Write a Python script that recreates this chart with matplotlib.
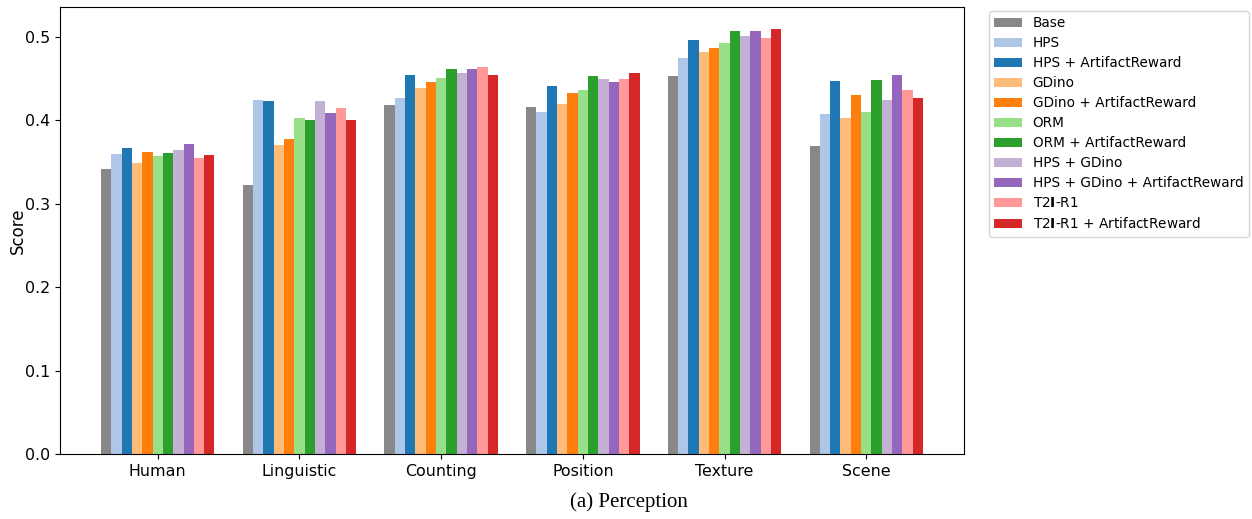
import matplotlib
matplotlib.use("Agg")
import matplotlib.pyplot as plt
import numpy as np

plt.rcParams['mathtext.fontset'] = 'dejavusans'

categories = ["Human", "Linguistic", "Counting", "Position", "Texture", "Scene"]
methods = ["Base", "HPS", "HPS + ArtifactReward", "GDino", "GDino + ArtifactReward",
           "ORM", "ORM + ArtifactReward", "HPS + GDino", "HPS + GDino + ArtifactReward",
           r"T2$\mathbf{I}$-R1", r"T2$\mathbf{I}$-R1 + ArtifactReward"]
colors = ["#888888", "#aec7e8", "#1f77b4", "#ffbb78", "#ff7f0e",
          "#98df8a", "#2ca02c", "#c5b0d5", "#9467bd", "#ff9896", "#d62728"]

base = [0.342, 0.323, 0.419, 0.416, 0.453, 0.369]
hps = [0.360, 0.425, 0.427, 0.410, 0.475, 0.408]
hps_ar = [0.367, 0.423, 0.455, 0.441, 0.496, 0.447]
gdino = [0.349, 0.371, 0.439, 0.420, 0.482, 0.403]
gdino_ar = [0.362, 0.378, 0.446, 0.433, 0.487, 0.430]
orm = [0.357, 0.403, 0.451, 0.437, 0.493, 0.410]
orm_ar = [0.361, 0.401, 0.462, 0.453, 0.507, 0.448]
hps_gdino = [0.365, 0.423, 0.457, 0.450, 0.501, 0.425]
hps_gdino_ar = [0.372, 0.409, 0.462, 0.446, 0.507, 0.455]
t2i = [0.355, 0.415, 0.464, 0.450, 0.499, 0.437]
t2i_ar = [0.359, 0.401, 0.455, 0.457, 0.510, 0.427]

series = [base, hps, hps_ar, gdino, gdino_ar, orm, orm_ar, hps_gdino, hps_gdino_ar, t2i, t2i_ar]

fig = plt.figure(figsize=(12.52, 5.19), dpi=100)
ax = fig.add_axes([60/1252, 1-454/519, 904/1252, 447/519])

x = np.arange(len(categories))
n = len(series)
w = 0.8 / n
for i, (vals, lab, c) in enumerate(zip(series, methods, colors)):
    ax.bar(x - 0.4 + w/2 + i*w, vals, width=w, color=c, label=lab)

ax.set_xticks(x)
ax.set_xticklabels(categories, fontsize=11.4)
ax.tick_params(axis='y', labelsize=11.4)
ax.set_ylabel("Score", fontsize=12)
ax.yaxis.set_label_coords(-0.037, 0.5)
ax.set_ylim(0, 0.536)
ax.set_yticks([0.0, 0.1, 0.2, 0.3, 0.4, 0.5])

ax.legend(loc='upper left', bbox_to_anchor=(1.0277, 0.991), borderaxespad=0,
          fontsize=9.8, labelspacing=0.44, frameon=True)

fig.text(629/1252, 1-502/519, "(a) Perception", ha='center', va='center',
         fontsize=15, family='Liberation Serif')

fig.savefig("out.png", dpi=100)
